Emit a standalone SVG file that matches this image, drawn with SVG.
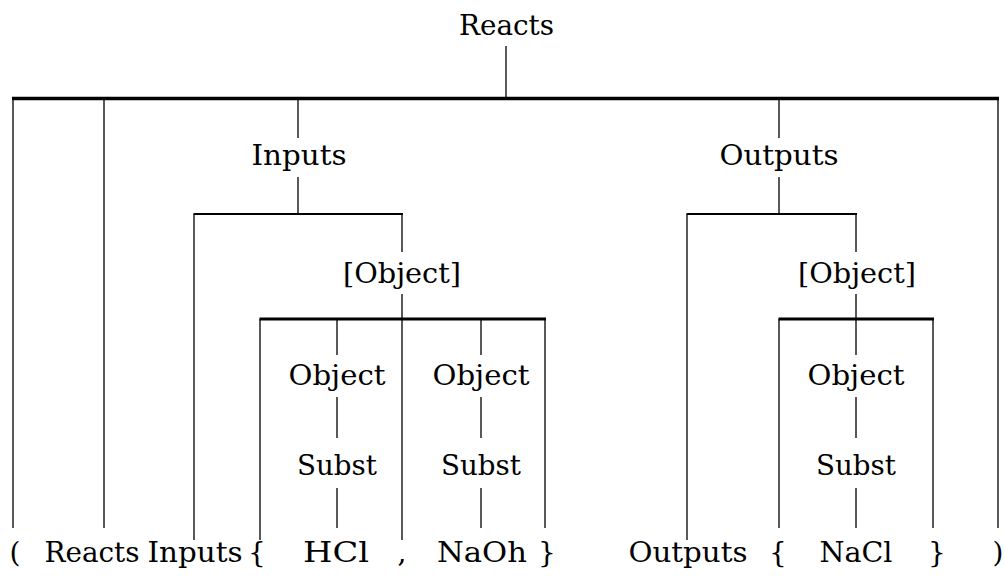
<svg xmlns="http://www.w3.org/2000/svg" width="1005" height="577" viewBox="0 0 1005 577">
<style>
.t{font-family:"DejaVu Serif","Liberation Serif",serif;font-size:28px;text-anchor:middle;fill:#000}
.e{stroke:#000;stroke-width:1.3;fill:none}
.b1{stroke:#000;stroke-width:3.5;fill:none}
.b2{stroke:#000;stroke-width:2;fill:none}
.b3{stroke:#000;stroke-width:3;fill:none}
</style>
<rect width="1005" height="577" fill="#fff"/>
<g id="connectors">
<path class="b1" d="M12 98.5H999"/>
<path class="e" d="M506 46V98M13 98V528M104 98V528M298 98V138M779 98V138M998 98V528"/>
<path class="e" d="M298 177V214M194 214V540M402 214V252"/>
<path class="b2" d="M193.5 214H403"/>
<path class="e" d="M402 294V540M260 319V540M337 319V355M481 319V355M545 319V528"/>
<path class="b3" d="M259.5 319H546"/>
<path class="e" d="M337 397V438M337 488V528M481 397V438M481 488V528"/>
<path class="e" d="M779 177V214M687 214V540M856 214V252"/>
<path class="b2" d="M686.5 214H857"/>
<path class="e" d="M856 294V319M779 319V528M856 319V355M933 319V528"/>
<path class="b3" d="M778.5 319H934"/>
<path class="e" d="M856 397V438M856 488V528"/>
</g>
<g id="n-root"><text class="t" x="506.5" y="35" textLength="95" lengthAdjust="spacingAndGlyphs">Reacts</text></g>
<g id="n-inputs"><text class="t" x="299" y="165" textLength="95" lengthAdjust="spacingAndGlyphs">Inputs</text></g>
<g id="n-outputs"><text class="t" x="779" y="165" textLength="119" lengthAdjust="spacingAndGlyphs">Outputs</text></g>
<g id="n-objlist-in"><text class="t" x="402" y="283" textLength="118" lengthAdjust="spacingAndGlyphs">[Object]</text></g>
<g id="n-objlist-out"><text class="t" x="857" y="283" textLength="118" lengthAdjust="spacingAndGlyphs">[Object]</text></g>
<g id="n-obj1"><text class="t" x="337" y="385" textLength="97" lengthAdjust="spacingAndGlyphs">Object</text></g>
<g id="n-obj2"><text class="t" x="481" y="385" textLength="97" lengthAdjust="spacingAndGlyphs">Object</text></g>
<g id="n-obj3"><text class="t" x="856" y="385" textLength="97" lengthAdjust="spacingAndGlyphs">Object</text></g>
<g id="n-subst1"><text class="t" x="337" y="475" textLength="80" lengthAdjust="spacingAndGlyphs">Subst</text></g>
<g id="n-subst2"><text class="t" x="481" y="475" textLength="80" lengthAdjust="spacingAndGlyphs">Subst</text></g>
<g id="n-subst3"><text class="t" x="856" y="475" textLength="80" lengthAdjust="spacingAndGlyphs">Subst</text></g>
<g id="leaf-lparen"><text class="t" x="15" y="562">(</text></g>
<g id="leaf-reacts"><text class="t" x="92" y="562" textLength="95" lengthAdjust="spacingAndGlyphs">Reacts</text></g>
<g id="leaf-inputs"><text class="t" x="195" y="562" textLength="95" lengthAdjust="spacingAndGlyphs">Inputs</text></g>
<g id="leaf-lbrace1"><text class="t" x="257" y="562">{</text></g>
<g id="leaf-hcl"><text class="t" x="336" y="562" textLength="66" lengthAdjust="spacingAndGlyphs">HCl</text></g>
<g id="leaf-comma"><text class="t" x="402" y="562">,</text></g>
<g id="leaf-naoh"><text class="t" x="482" y="562" textLength="90" lengthAdjust="spacingAndGlyphs">NaOh</text></g>
<g id="leaf-rbrace1"><text class="t" x="547" y="562">}</text></g>
<g id="leaf-outputs"><text class="t" x="688" y="562" textLength="119" lengthAdjust="spacingAndGlyphs">Outputs</text></g>
<g id="leaf-lbrace2"><text class="t" x="778" y="562">{</text></g>
<g id="leaf-nacl"><text class="t" x="856" y="562" textLength="73" lengthAdjust="spacingAndGlyphs">NaCl</text></g>
<g id="leaf-rbrace2"><text class="t" x="937" y="562">}</text></g>
<g id="leaf-rparen"><text class="t" x="998" y="562">)</text></g>
</svg>
